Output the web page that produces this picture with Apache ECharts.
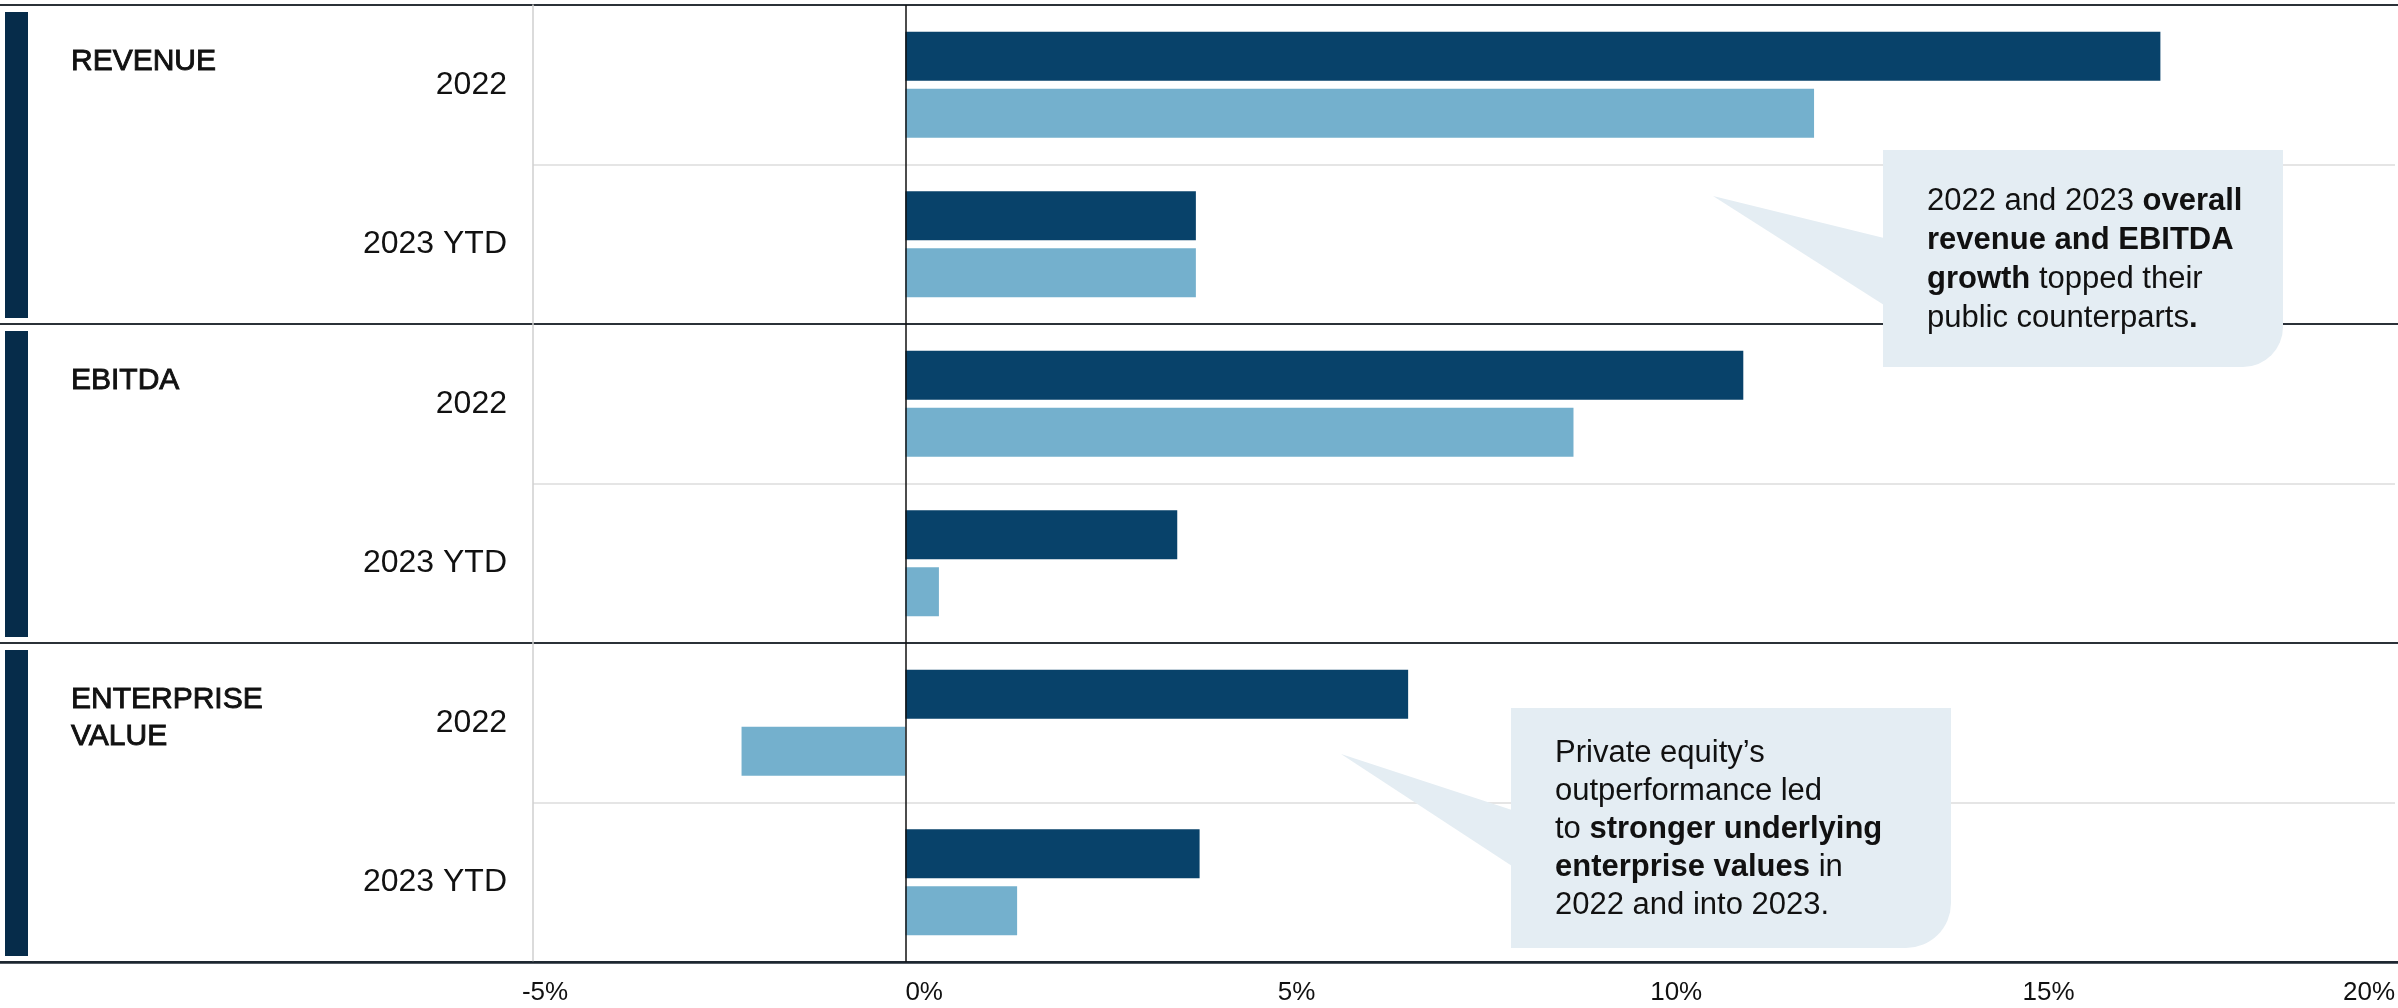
<!DOCTYPE html>
<html>
<head>
<meta charset="utf-8">
<script src="https://cdn.jsdelivr.net/npm/echarts@6/dist/echarts.min.js"></script>
<style>
html,body{margin:0;padding:0;background:#fff;}
#chart{width:2398px;height:1008px;}
</style>
</head>
<body>
<div id="chart"></div>
<script>
// ---- data ----
const metrics = ['REVENUE', 'EBITDA', 'ENTERPRISE\nVALUE'];
const periods = ['2022', '2023 YTD'];
const privateEquity = [16.85, 3.9, 11.25, 3.65, 6.75, 3.95];
const publicCos = [12.2, 3.9, 8.97, 0.45, -2.2, 1.5];
const xTicks = [-5, 0, 5, 10, 15, 20];
const callout1 = ['2022 and 2023 {b|overall}', '{b|revenue and EBITDA}', '{b|growth} topped their', 'public counterparts{b|.}'];
const callout2 = ['Private equity’s', 'outperformance led', 'to {b|stronger underlying}', '{b|enterprise values} in', '2022 and into 2023.'];

const categories = [];
metrics.forEach(m => periods.forEach(p => categories.push(m + '|' + p)));

const FONT = "'Liberation Sans', Arial, Helvetica, sans-serif";
const DARK = '#08426a';
const LIGHT = '#74b0cd';
const BOX = '#e4edf3';

const chart = echarts.init(document.getElementById('chart'));

chart.setOption({
  animation: false,
  backgroundColor: '#fff',
  grid: [
    { left: 533, right: 0, top: 5, bottom: 46 },
    { left: 0, right: 0, top: 5, bottom: 46 }
  ],
  xAxis: [
    {
      type: 'value', gridIndex: 0,
      min: xTicks[0], max: xTicks[xTicks.length - 1], interval: 5,
      axisLine: { show: false }, axisTick: { show: false }, splitLine: { show: false },
      axisLabel: {
        formatter: v => (v === xTicks[0] ? '{m|' + v + '%}' : v + '%'),
        fontSize: 26, color: '#111', fontFamily: FONT,
        align: 'left', alignMinLabel: 'center', alignMaxLabel: 'right', margin: 18,
        rich: { m: { fontSize: 26, color: '#111', fontFamily: FONT, padding: [0, 0, 0, 24] } }
      }
    },
    {
      type: 'value', gridIndex: 1, min: 0, max: 1,
      axisLine: { show: true, onZero: false, lineStyle: { color: '#1c2630', width: 2.5 } },
      axisTick: { show: false }, axisLabel: { show: false }, splitLine: { show: false }
    }
  ],
  yAxis: [
    {
      type: 'category', gridIndex: 0, data: categories, inverse: true,
      axisLine: { show: true, onZero: false, lineStyle: { color: '#cfcfcf', width: 1.5 } },
      axisTick: { show: false },
      axisLabel: {
        formatter: v => v.split('|')[1], fontSize: 32, color: '#111', fontFamily: FONT, margin: 26,
        padding: [6, 0, 0, 0]
      },
      splitLine: { show: true, lineStyle: { color: ['rgba(0,0,0,0)', '#dcdcdc'], width: 1.5 } }
    },
    {
      type: 'category', gridIndex: 1, data: categories, inverse: true,
      axisLine: { show: false }, axisTick: { show: false }, axisLabel: { show: false },
      splitLine: { show: true, lineStyle: { color: ['#2b3138', 'rgba(0,0,0,0)'], width: 2 } }
    }
  ],
  series: [
    {
      name: 'Private equity', type: 'bar', xAxisIndex: 0, yAxisIndex: 0,
      data: privateEquity, barWidth: 49, barGap: '16%',
      itemStyle: { color: DARK },
      markLine: {
        silent: true, symbol: 'none', label: { show: false },
        lineStyle: { color: '#111', width: 1.5, type: 'solid' },
        data: [{ xAxis: 0 }]
      }
    },
    {
      name: 'Public', type: 'bar', xAxisIndex: 0, yAxisIndex: 0,
      data: publicCos, barWidth: 49, barGap: '16%',
      itemStyle: { color: LIGHT }
    }
  ]
});

// ---- decorations from the axis layout ----
const px = i => chart.convertToPixel({ yAxisIndex: 0 }, i);
const band = Math.abs(px(1) - px(0));
const graphics = [];
metrics.forEach((m, k) => {
  const top = px(k * periods.length) - band / 2;
  graphics.push({
    type: 'rect', silent: true, z: 10,
    shape: { x: 5, y: top + 7, width: 23, height: band * periods.length - 13 },
    style: { fill: '#062c4a' }
  });
  graphics.push({
    type: 'text', silent: true, z: 10,
    style: {
      text: m, x: 71, y: top + 38, fontSize: 30, lineHeight: 37, fontFamily: FONT,
      fill: '#111', stroke: '#111', lineWidth: 0.9, verticalAlign: 'top', align: 'left'
    }
  });
});

function callout(box, tip, baseTop, baseBot, r, lines, lh) {
  const rich = { b: { fontWeight: 'bold', fontSize: 31, lineHeight: lh, fontFamily: FONT, fill: '#111' } };
  return [
    {
      type: 'polygon', silent: true, z: 20,
      shape: { points: [tip, [box.x + 1, baseTop], [box.x + 1, baseBot]] },
      style: { fill: BOX }
    },
    {
      type: 'rect', silent: true, z: 20,
      shape: { x: box.x, y: box.y, width: box.w, height: box.h, r: [0, 0, r, 0] },
      style: { fill: BOX }
    },
    {
      type: 'text', silent: true, z: 21,
      style: {
        text: lines.join('\n'), x: box.x + 44, y: box.y + box.h / 2 + 1,
        fontSize: 31, lineHeight: lh, fontFamily: FONT, fill: '#111',
        verticalAlign: 'middle', align: 'left', rich: rich
      }
    }
  ];
}
graphics.push(...callout({ x: 1883, y: 150, w: 400, h: 217 }, [1713, 196], 238, 305, 40, callout1, 39));
graphics.push(...callout({ x: 1511, y: 708, w: 440, h: 240 }, [1341, 754], 810, 866, 45, callout2, 38));

chart.setOption({ graphic: graphics });
</script>
</body>
</html>
